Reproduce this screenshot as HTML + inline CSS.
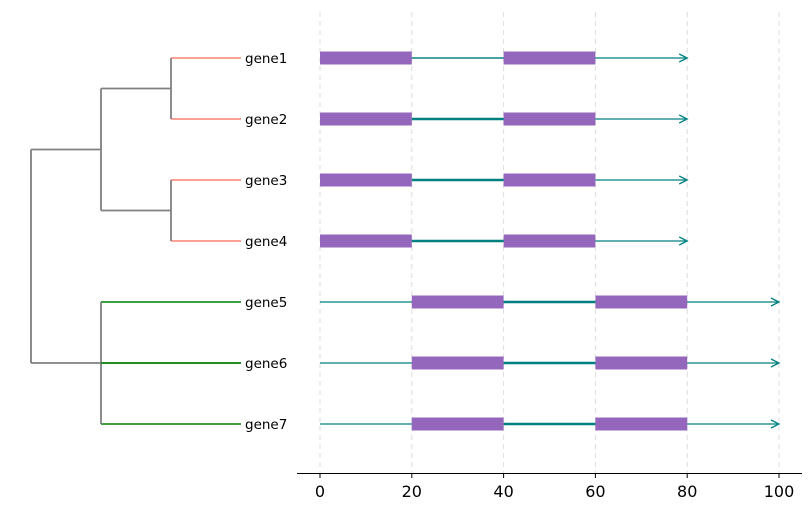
<!DOCTYPE html>
<html><head><meta charset="utf-8"><style>
body{margin:0;background:#fff}
svg{display:block;font-family:"DejaVu Sans","Liberation Sans",sans-serif}
</style></head><body>
<svg id="chart" width="811" height="511" viewBox="0 0 811 511" xmlns="http://www.w3.org/2000/svg">
<g id="grid"></g>
<g id="tree"></g>
<g id="genes"></g>
<g id="axis"></g>
</svg>
<script>
const genes = ["gene1","gene2","gene3","gene4","gene5","gene6","gene7"];
const exonStarts = [[0,40],[0,40],[0,40],[0,40],[20,60],[20,60],[20,60]];
const exonEnds = [[20,60],[20,60],[20,60],[20,60],[40,80],[40,80],[40,80]];
const geneStart = [0,0,0,0,0,0,0];
const geneEnd = [80,80,80,80,100,100,100];
const intronWidth = [1.3,2.5,2.5,2.5,2.5,2.5,2.5];
const ticks = [0,20,40,60,80,100];
const clusterColor = ["#fa8072","#fa8072","#fa8072","#fa8072","green","green","green"];

const NS="http://www.w3.org/2000/svg";
const X = v => 320 + (v)*4.59;
const Y = i => 58 + i*61;
function mk(tag, attrs, parent){const e=document.createElementNS(NS,tag);for(const k in attrs)e.setAttribute(k,attrs[k]);document.getElementById(parent).appendChild(e);return e;}

ticks.forEach(t=>{
  const g=mk('line',{x1:X(t),x2:X(t),y1:12,y2:473,stroke:'#ddd','stroke-dasharray':'5,4','stroke-width':1},'grid');
  
  
  const tk=mk('line',{x1:X(t),x2:X(t),y1:473,y2:478,stroke:'#000','stroke-width':1},'axis');
  
  
  const tl=mk('text',{x:X(t),y:497,'text-anchor':'middle','font-size':16,fill:'#000'},'axis');
  tl.textContent=t;
  
  
});
const ax=mk('line',{x1:297,x2:802,y1:473.5,y2:473.5,stroke:'#000','stroke-width':1},'axis');



genes.forEach((g,i)=>{
  const y=Y(i);
  const ln=mk('line',{x1:X(geneStart[i]),x2:X(geneEnd[i])-2,y1:y,y2:y,stroke:'teal','stroke-width':1.3},'genes');
  
  
  const intr=mk('line',{x1:X(exonEnds[i][0]),x2:X(exonStarts[i][1]),y1:y,y2:y,stroke:'teal','stroke-width':intronWidth[i]},'genes');
  
  
  const ex=X(geneEnd[i]);
  const ar=mk('path',{d:`M${ex-8},${y-4} L${ex},${y} L${ex-8},${y+4}`,fill:'none',stroke:'teal','stroke-width':1.3},'genes');
  
  
  exonStarts[i].forEach((s,k)=>{
    const r=mk('rect',{x:X(s),y:y-6.5,width:X(exonEnds[i][k])-X(s),height:13,fill:'#9467bd'},'genes');
    
    
  });
  const lbl=mk('text',{x:245,y:y+5,'font-size':13.5,fill:'#000'},'tree');
  lbl.textContent=g;
  
  
  const leafX = i<4 ? 171 : 101;
  const br=mk('line',{x1:leafX,x2:241,y1:y,y2:y,stroke:clusterColor[i],'stroke-width':1.5},'tree');
  
  
});
const grey='#808080';
const links=[
 [171,Y(0),171,Y(1)],[171,Y(2),171,Y(3)],
 [101,(Y(0)+Y(1))/2,171,(Y(0)+Y(1))/2],[101,(Y(2)+Y(3))/2,171,(Y(2)+Y(3))/2],
 [101,(Y(0)+Y(1))/2,101,(Y(2)+Y(3))/2],
 [101,Y(4),101,Y(6)],
 [31,(Y(0)+Y(3))/2,101,(Y(0)+Y(3))/2],[31,Y(5),101,Y(5)],
 [31,(Y(0)+Y(3))/2,31,Y(5)]
];
links.forEach(l=>{
  const e=mk('line',{x1:l[0],y1:l[1],x2:l[2],y2:l[3],stroke:grey,'stroke-width':1.8},'tree');
  
  
});
const g6=mk('line',{x1:101,x2:241,y1:Y(5),y2:Y(5),stroke:'green','stroke-width':1.5},'tree');


</script>
</body></html>
